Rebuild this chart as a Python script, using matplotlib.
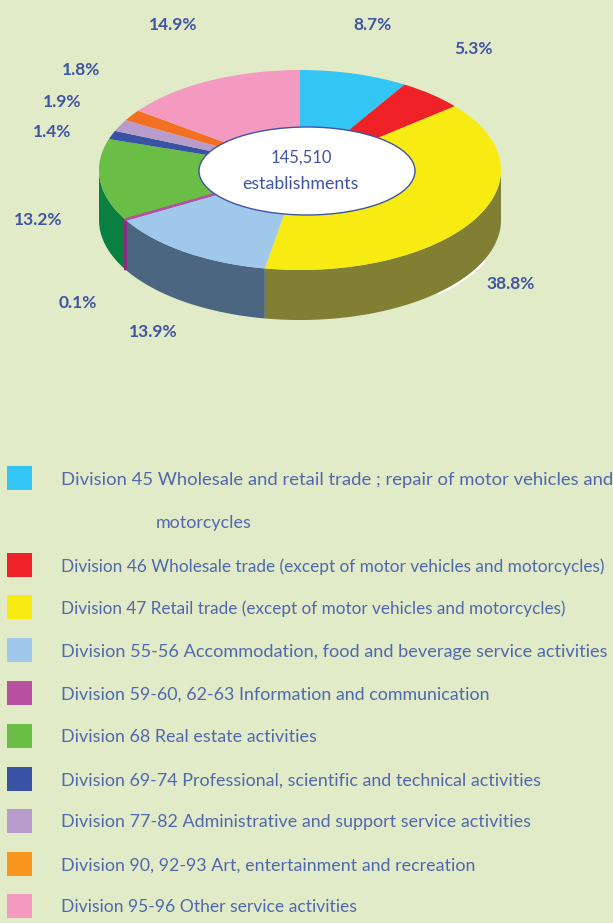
import numpy as np
import matplotlib
matplotlib.use('Agg')
import matplotlib.pyplot as plt
from matplotlib.patches import Wedge, Ellipse, Rectangle
from matplotlib.transforms import Affine2D

# data
names = ['Division 45 Wholesale and retail trade ; repair of motor vehicles and',
         'Division 46 Wholesale trade (except of motor vehicles and motorcycles)',
         'Division 47 Retail trade (except of motor vehicles and motorcycles)',
         'Division 55-56 Accommodation, food and beverage service activities',
         'Division 59-60, 62-63 Information and communication',
         'Division 68 Real estate activities',
         'Division 69-74 Professional, scientific and technical activities',
         'Division 77-82 Administrative and support service activities',
         'Division 90, 92-93 Art, entertainment and recreation',
         'Division 95-96 Other service activities']
shares = [8.7, 5.3, 38.8, 13.9, 0.1, 13.2, 1.4, 1.9, 1.8, 14.9]
share_labels = ['8.7%', '5.3%', '38.8%', '13.9%', '0.1%', '13.2%', '1.4%', '1.9%', '1.8%', '14.9%']

# colours
top_colors = ['#33c5f4', '#ee2226', '#f7eb11', '#9fc8ea', '#b94f9f',
              '#6abd45', '#3953a4', '#b89ccb', '#f9961d', '#f49ac1']
slice_colors = list(top_colors)
slice_colors[8] = '#f36f21'
side_colors = ['#1f7ea0', '#98171a', '#817f33', '#4c6682', '#8e2b7f',
               '#0a8040', '#25366b', '#776585', '#9c4715', '#9d637c']
bg = '#e1ebc8'
label_col = '#3f54a3'
legend_col = '#5068ae'

# layout, pixels
W, H = 613, 923
cx, cy, rx, ry, depth = 300, 170, 201, 100, 50
label_xy = [(373, 25), (473, 49), (511, 284), (153, 332), (78, 303),
            (38, 220), (52, 132), (62, 102), (81, 70), (173, 25)]
legend_rows = [478, 565, 607, 650, 693, 736, 779, 821, 864, 906]
legend_sizes = [13.3, 12.45, 12.35, 13.05, 12.9, 12.9, 12.9, 12.9, 12.9, 12.6]

fig = plt.figure(figsize=(W/100, H/100), dpi=100, facecolor=bg)
ax = fig.add_axes([0, 0, 1, 1])
ax.set_xlim(0, W)
ax.set_ylim(H, 0)
ax.axis('off')
plt.rcParams['font.family'] = ['Lato', 'DejaVu Sans']

# angles clockwise from top, in degrees
edges = np.concatenate([[0], np.cumsum(shares)]) * 3.6


def rim(a):
    r = np.radians(a)
    return cx + rx*np.sin(r), cy - ry*np.cos(r)


# white sliver behind the wall, low right
a = np.linspace(114, 137, 30)
x, y = rim(a)
ax.fill(np.r_[x, x[::-1]] + 1, np.r_[y + depth + 2, y[::-1]], color='white', lw=0, zorder=1)

# side wall, only the front half shows
for i in range(len(shares)):
    lo, hi = max(edges[i], 90), min(edges[i+1], 270)
    if lo >= hi:
        continue
    a = np.linspace(lo, hi, 200)
    x, y = rim(a)
    # the 0.1% slice gets a line so it stays visible
    thin = shares[i] < 0.5
    ax.fill(np.r_[x, x[::-1]], np.r_[y, y[::-1] + depth], facecolor=side_colors[i],
            edgecolor=side_colors[i], lw=1.5 if thin else 0, zorder=2.5 if thin else 2)

# top face, matplotlib angles run from +x so convert
tr = Affine2D().scale(rx, -ry).translate(cx, cy) + ax.transData
for i in range(len(shares)):
    thin = shares[i] < 0.5
    ax.add_patch(Wedge((0, 0), 1, 90 - edges[i+1], 90 - edges[i], facecolor=slice_colors[i],
                       edgecolor=slice_colors[i], lw=1.5 if thin else 0, transform=tr,
                       zorder=3.5 if thin else 3))

ax.add_patch(Ellipse((307, 171), 216, 88, facecolor='white', edgecolor='#3f54a3', lw=1, zorder=4))
ax.text(301, 158, '145,510', ha='center', va='center', color=label_col, fontsize=12, zorder=5)
ax.text(300, 184, 'establishments', ha='center', va='center', color=label_col, fontsize=12.8, zorder=5)

for lab, (x, y) in zip(share_labels, label_xy):
    ax.text(x, y, lab, ha='center', va='center', color=label_col, fontsize=12.5, fontweight='bold')

# legend
for i, y in enumerate(legend_rows):
    ax.add_patch(Rectangle((7, y - 12), 25, 24, facecolor=top_colors[i], lw=0))
    ax.text(61, y + 1.5, names[i], ha='left', va='center', color=legend_col, fontsize=legend_sizes[i])
ax.text(156, 523, 'motorcycles', ha='left', va='center', color=legend_col, fontsize=12.9)

fig.savefig('out.png', dpi=100, facecolor=bg)
